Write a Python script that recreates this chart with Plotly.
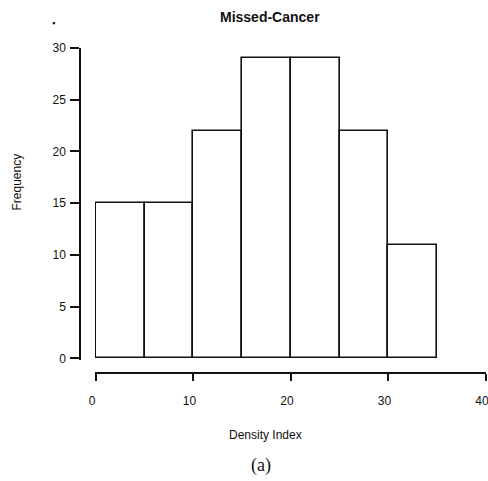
import plotly.graph_objects as go

bin_starts = [0, 5, 10, 15, 20, 25, 30]
bin_width = 5
counts = [15, 15, 22, 29, 29, 22, 11]
x_ticks = [0, 10, 20, 30, 40]
y_ticks = [0, 5, 10, 15, 20, 25, 30]

W, H = 488, 481
ml, mr, mt, mb = 30, 1, 20, 60
pw, ph = W - ml - mr, H - mt - mb

def fx(px):
    return (px - ml) / pw

def fy(py):
    return (H - mb - py) / ph

centers = [s + bin_width / 2 for s in bin_starts]

fig = go.Figure(go.Bar(
    x=centers, y=counts, width=[bin_width] * len(counts),
    marker=dict(color="white", line=dict(color="#111111", width=1.6)),
    showlegend=False,
))

font = dict(family="Liberation Sans, Arial, sans-serif", color="#111111")

fig.update_layout(
    width=W, height=H,
    margin=dict(l=ml, r=mr, t=mt, b=mb, autoexpand=False),
    paper_bgcolor="white", plot_bgcolor="white",
    font=dict(size=12, **font),
    bargap=0,
    xaxis=dict(
        range=[-0.1, 40], domain=[fx(95), min(1, fx(486))],
        anchor="free", position=fy(373), automargin=False,
        tickvals=x_ticks, ticks="outside", ticklen=7, tickwidth=1.5,
        tickcolor="#111111", showline=True, linecolor="#111111", linewidth=1.5,
        showgrid=False, zeroline=False, ticklabeloverflow="allow",
        ticklabelstandoff=10, ticklabelshift=-4,
        tickfont=dict(size=12, **font),
    ),
    yaxis=dict(
        range=[-0.15, 30], domain=[fy(360), fy(48)],
        anchor="free", position=fx(80), automargin=False,
        tickvals=y_ticks, ticks="outside", ticklen=9, tickwidth=1.5,
        tickcolor="#111111", showline=True, linecolor="#111111", linewidth=1.5,
        showgrid=False, zeroline=False, ticklabelstandoff=2,
        tickfont=dict(size=12, **font),
    ),
    annotations=[
        dict(text="<b>Missed-Cancer</b>", xref="paper", yref="paper",
             x=fx(269.5), y=fy(17), yanchor="middle", showarrow=False,
             font=dict(size=14, **font)),
        dict(text="Frequency", xref="paper", yref="paper",
             x=fx(16.5), y=fy(182), xanchor="center", yanchor="middle",
             showarrow=False, textangle=-90,
             font=dict(size=12, **font)),
        dict(text="Density Index", xref="paper", yref="paper",
             x=fx(265.5), y=fy(435), xanchor="center", yanchor="middle",
             showarrow=False,
             font=dict(size=12, **font)),
        dict(text="(a)", xref="paper", yref="paper",
             x=fx(260.5), y=fy(465), yanchor="middle", showarrow=False,
             font=dict(size=18, family="Liberation Serif, Times New Roman, serif",
                       color="#111111")),
        dict(text="▪", xref="paper", yref="paper",
             x=fx(53), y=fy(23), xanchor="center", yanchor="middle",
             showarrow=False,
             font=dict(size=9, **font)),
    ],
)

fig.write_html(
    "out.html",
    config={"displayModeBar": False},
    post_script="document.body.style.margin='0';"
                "document.documentElement.style.overflow='hidden';",
)
